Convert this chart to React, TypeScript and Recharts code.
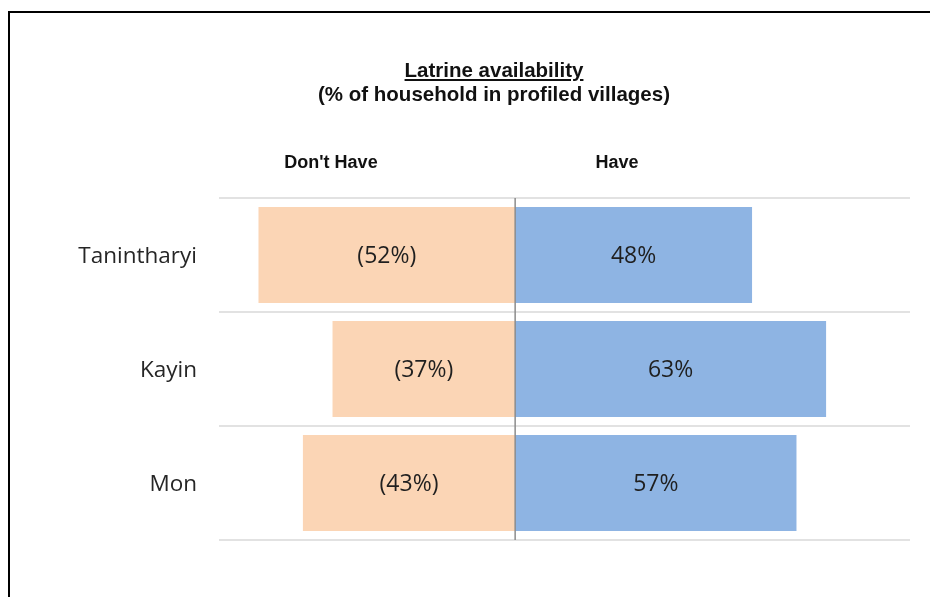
import React from "react";
import {
  BarChart,
  Bar,
  XAxis,
  YAxis,
  CartesianGrid,
  ReferenceLine,
  LabelList,
} from "recharts";

const regions = ["Tanintharyi", "Kayin", "Mon"];
const dontHave = [52, 37, 43];
const have = [48, 63, 57];
const xDomain = [-60, 80];

const data = regions.map((name, i) => ({
  name,
  dontHave: -dontHave[i],
  have: have[i],
}));

const labelFont = { fontFamily: "'Open Sans', sans-serif", fontSize: 23, fill: "#1f1f1f" };

export default function App() {
  return (
    <div
      style={{
        position: "relative",
        width: 922,
        height: 589,
        overflow: "hidden",
        background: "#fff",
      }}
    >
      <div
        style={{
          position: "fixed",
          left: 8,
          top: 11,
          right: -20,
          bottom: -20,
          borderLeft: "2.5px solid #000",
          borderTop: "2px solid #000",
          pointerEvents: "none",
        }}
      />
      <div
        style={{
          position: "absolute",
          left: 186,
          top: 50,
          width: 600,
          textAlign: "center",
          fontFamily: "'Liberation Sans', Arial, sans-serif",
          fontWeight: "bold",
          fontSize: 20.5,
          lineHeight: "24px",
          color: "#111",
        }}
      >
        <div style={{ textDecoration: "underline" }}>Latrine availability</div>
        <div>(% of household in profiled villages)</div>
      </div>
      <div
        style={{
          position: "absolute",
          left: 223,
          top: 144,
          width: 200,
          textAlign: "center",
          fontFamily: "'Liberation Sans', Arial, sans-serif",
          fontWeight: "bold",
          fontSize: 18,
          lineHeight: "20px",
          color: "#111",
        }}
      >
        Don't Have
      </div>
      <div
        style={{
          position: "absolute",
          left: 509,
          top: 144,
          width: 200,
          textAlign: "center",
          fontFamily: "'Liberation Sans', Arial, sans-serif",
          fontWeight: "bold",
          fontSize: 18,
          lineHeight: "20px",
          color: "#111",
        }}
      >
        Have
      </div>
      <div style={{ position: "absolute", left: 0, top: 0 }}>
        <BarChart
          width={922}
          height={589}
          data={data}
          layout="vertical"
          stackOffset="sign"
          barCategoryGap="8%"
          margin={{ top: 190, right: 20, bottom: 57, left: 0 }}
        >
          <CartesianGrid
            vertical={false}
            stroke="#D9D9D9"
            strokeWidth={1.5}
            horizontalCoordinatesGenerator={({ offset }: any) =>
              regions
                .map((_, i) => offset.top + (i * offset.height) / regions.length)
                .concat([offset.top + offset.height])
            }
          />
          <XAxis type="number" domain={xDomain} hide />
          <YAxis
            type="category"
            dataKey="name"
            width={211}
            axisLine={false}
            tickLine={false}
            tickMargin={16}
            tick={{ fontFamily: "'Open Sans', sans-serif", fontSize: 22.5, fill: "#262626" }}
          />
          <Bar dataKey="dontHave" stackId="a" fill="#FBD5B5" isAnimationActive={false}>
            <LabelList
              dataKey="dontHave"
              position="center"
              formatter={(v: any) => `(${Math.abs(Number(v))}%)`}
              style={labelFont}
            />
          </Bar>
          <Bar dataKey="have" stackId="a" fill="#8EB4E3" isAnimationActive={false}>
            <LabelList
              dataKey="have"
              position="center"
              formatter={(v: any) => `${v}%`}
              style={labelFont}
            />
          </Bar>
          <ReferenceLine x={0} stroke="#8C8C8C" strokeWidth={1.5} />
        </BarChart>
      </div>
    </div>
  );
}
